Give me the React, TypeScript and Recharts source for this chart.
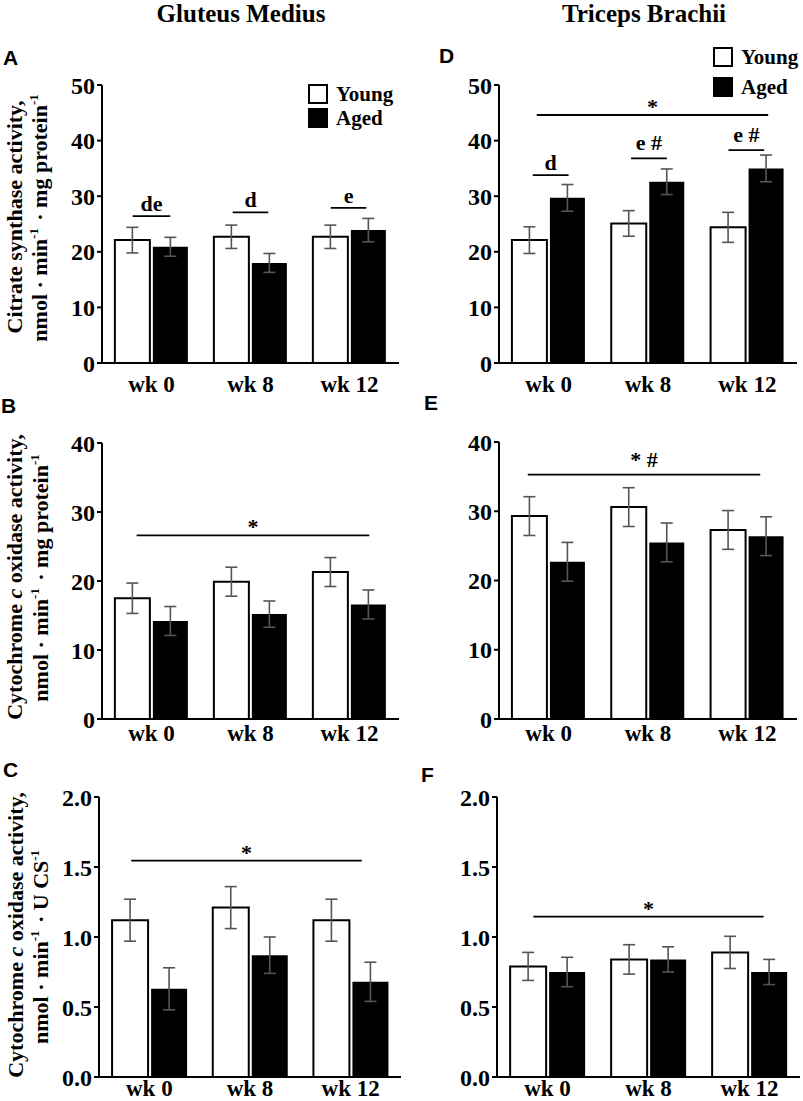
import React from 'react';
import { BarChart, Bar, XAxis, YAxis, ErrorBar, ReferenceLine, Legend } from 'recharts';

const serif = "'Liberation Serif', 'Times New Roman', serif";
const sans = "'Liberation Sans', Arial, sans-serif";

// x categories shared by every panel
const weeks = ['wk 0', 'wk 8', 'wk 12'];
const groups = ['Young', 'Aged'];

// A - citrate synthase, gluteus medius
const csGluteusYoung = [22.1, 22.7, 22.7];
const csGluteusYoungErr = [2.3, 2.1, 2.1];
const csGluteusAged = [20.9, 18.0, 23.9];
const csGluteusAgedErr = [1.7, 1.7, 2.1];

// D - citrate synthase, triceps brachii
const csTricepsYoung = [22.1, 25.1, 24.4];
const csTricepsYoungErr = [2.4, 2.3, 2.7];
const csTricepsAged = [29.7, 32.6, 35.0];
const csTricepsAgedErr = [2.4, 2.3, 2.4];

// B - cytochrome c oxidase per mg protein, gluteus medius
const coxGluteusYoung = [17.5, 19.9, 21.3];
const coxGluteusYoungErr = [2.2, 2.1, 2.1];
const coxGluteusAged = [14.2, 15.2, 16.6];
const coxGluteusAgedErr = [2.1, 1.9, 2.1];

// E - cytochrome c oxidase per mg protein, triceps brachii
const coxTricepsYoung = [29.3, 30.6, 27.3];
const coxTricepsYoungErr = [2.8, 2.8, 2.8];
const coxTricepsAged = [22.7, 25.5, 26.4];
const coxTricepsAgedErr = [2.8, 2.8, 2.8];

// C - cytochrome c oxidase per U CS, gluteus medius
const ratioGluteusYoung = [1.12, 1.21, 1.12];
const ratioGluteusYoungErr = [0.15, 0.15, 0.15];
const ratioGluteusAged = [0.63, 0.87, 0.68];
const ratioGluteusAgedErr = [0.15, 0.13, 0.14];

// F - cytochrome c oxidase per U CS, triceps brachii
const ratioTricepsYoung = [0.79, 0.84, 0.89];
const ratioTricepsYoungErr = [0.1, 0.105, 0.115];
const ratioTricepsAged = [0.75, 0.84, 0.75];
const ratioTricepsAgedErr = [0.105, 0.09, 0.09];

// y ticks
const ticks50 = [0, 10, 20, 30, 40, 50];
const ticks40 = [0, 10, 20, 30, 40];
const ticks2 = [0, 0.5, 1, 1.5, 2];

// significance bars: from/to in category units (0..3), y in data units
const notesA = [
  { text: 'de', from: 0.31, to: 0.69, y: 26.4 },
  { text: 'd', from: 1.32, to: 1.68, y: 27.1 },
  { text: 'e', from: 2.31, to: 2.67, y: 27.9 },
];
const notesD = [
  { text: '*', from: 0.38, to: 2.71, y: 44.6 },
  { text: 'd', from: 0.34, to: 0.7, y: 33.8 },
  { text: 'e #', from: 1.33, to: 1.69, y: 36.8 },
  { text: 'e #', from: 2.31, to: 2.67, y: 38.3 },
];
const notesB = [{ text: '*', from: 0.35, to: 2.7, y: 26.6 }];
const notesE = [{ text: '*  #', from: 0.29, to: 2.63, y: 35.3 }];
const notesC = [{ text: '*', from: 0.32, to: 2.61, y: 1.546 }];
const notesF = [{ text: '*', from: 0.36, to: 2.64, y: 1.145 }];

const toRows = (young, youngErr, aged, agedErr) =>
  weeks.map((wk, i) => ({ wk, young: young[i], youngErr: youngErr[i], aged: aged[i], agedErr: agedErr[i] }));

const panels = [
  {
    id: 'A', rows: toRows(csGluteusYoung, csGluteusYoungErr, csGluteusAged, csGluteusAgedErr),
    plotLeft: 102, plotRight: 399, yTop: 85, yBottom: 363, max: 50, ticks: ticks50,
    xTickMargin: 13, xHeight: 40, notes: notesA, legend: { x: 308, y: 82, gap: 24 },
  },
  {
    id: 'D', rows: toRows(csTricepsYoung, csTricepsYoungErr, csTricepsAged, csTricepsAgedErr),
    plotLeft: 499, plotRight: 797, yTop: 85, yBottom: 363, max: 50, ticks: ticks50,
    xTickMargin: 13, xHeight: 40, notes: notesD, legend: { x: 713, y: 42, gap: 30 },
  },
  {
    id: 'B', rows: toRows(coxGluteusYoung, coxGluteusYoungErr, coxGluteusAged, coxGluteusAgedErr),
    plotLeft: 102, plotRight: 399, yTop: 443, yBottom: 719, max: 40, ticks: ticks40,
    xTickMargin: 6, xHeight: 40, notes: notesB,
  },
  {
    id: 'E', rows: toRows(coxTricepsYoung, coxTricepsYoungErr, coxTricepsAged, coxTricepsAgedErr),
    plotLeft: 499, plotRight: 797, yTop: 442, yBottom: 719, max: 40, ticks: ticks40,
    xTickMargin: 6, xHeight: 40, notes: notesE,
  },
  {
    id: 'C', rows: toRows(ratioGluteusYoung, ratioGluteusYoungErr, ratioGluteusAged, ratioGluteusAgedErr),
    plotLeft: 99, plotRight: 401, yTop: 797, yBottom: 1077, max: 2, ticks: ticks2, decimals: 1,
    xTickMargin: 3, xHeight: 24, notes: notesC,
  },
  {
    id: 'F', rows: toRows(ratioTricepsYoung, ratioTricepsYoungErr, ratioTricepsAged, ratioTricepsAgedErr),
    plotLeft: 497, plotRight: 800, yTop: 797, yBottom: 1077, max: 2, ticks: ticks2, decimals: 1,
    xTickMargin: 3, xHeight: 24, notes: notesF,
  },
];

const Y_W = 70;
const M_TOP = 20;

const noteOffset = (text) => (text.includes('#') ? 8 : text === '*' ? 1 : 5);
const weekIndex = (row) => weeks.indexOf(row.wk);

function Panel({ cfg }) {
  const left = cfg.plotLeft - Y_W;
  const top = cfg.yTop - M_TOP;
  const width = cfg.plotRight - cfg.plotLeft + Y_W + 2;
  const height = cfg.yBottom - cfg.yTop + M_TOP + cfg.xHeight;
  const axisLine = { stroke: '#000', strokeWidth: 2 };
  const lg = cfg.legend;

  // keep Young above Aged, as in the figure
  const renderLegend = ({ payload }) => {
    const items = [...(payload || [])].sort((a, b) => groups.indexOf(a.value) - groups.indexOf(b.value));
    return (
      <div>
        {items.map((p) => (
          <div
            key={p.value}
            style={{ display: 'flex', alignItems: 'center', height: lg.gap, fontFamily: serif, fontWeight: 700, fontSize: 21, color: '#000', whiteSpace: 'nowrap' }}
          >
            <span style={{ display: 'inline-block', width: 16, height: 16, border: '2px solid #000', background: p.color, marginRight: 8 }} />
            <span style={{ lineHeight: '20px' }}>{p.value}</span>
          </div>
        ))}
      </div>
    );
  };

  return (
    <div style={{ position: 'absolute', left, top }}>
      <BarChart
        width={width}
        height={height}
        data={cfg.rows}
        margin={{ top: M_TOP, right: 2, bottom: 0, left: 0 }}
        barCategoryGap="13%"
        barGap={3}
      >
        <XAxis
          dataKey="wk"
          interval={0}
          height={cfg.xHeight}
          tickLine={false}
          tickSize={0}
          tickMargin={cfg.xTickMargin}
          axisLine={axisLine}
          tick={{ fill: '#000', fontSize: 23, fontWeight: 700, fontFamily: serif }}
        />
        {/* linear helper axis spanning the three categories, used to place the significance bars */}
        <XAxis xAxisId="ann" dataKey={weekIndex} type="number" domain={[0, 3]} allowDataOverflow hide />
        <YAxis
          width={Y_W}
          domain={[0, cfg.max]}
          ticks={cfg.ticks}
          interval={0}
          tickSize={5}
          tickMargin={2}
          axisLine={axisLine}
          tickLine={{ stroke: '#000', strokeWidth: 2 }}
          tick={{ fill: '#000', fontSize: 24, fontWeight: 700, fontFamily: serif }}
          tickFormatter={(v) => (cfg.decimals ? Number(v).toFixed(cfg.decimals) : String(v))}
        />
        <Bar dataKey="young" name="Young" fill="#fff" stroke="#000" strokeWidth={2} isAnimationActive={false}>
          <ErrorBar dataKey="youngErr" width={6} stroke="#555" strokeWidth={1.6} isAnimationActive={false} />
        </Bar>
        <Bar dataKey="aged" name="Aged" fill="#000" isAnimationActive={false}>
          <ErrorBar dataKey="agedErr" width={6} stroke="#555" strokeWidth={1.6} isAnimationActive={false} />
        </Bar>
        {cfg.notes.map((n, i) => (
          <ReferenceLine
            key={i}
            xAxisId="ann"
            segment={[{ x: n.from, y: n.y }, { x: n.to, y: n.y }]}
            stroke="#000"
            strokeWidth={1.8}
            ifOverflow="visible"
            label={{
              value: n.text,
              position: 'top',
              offset: noteOffset(n.text),
              fill: '#000',
              fontSize: 22,
              fontWeight: 700,
              fontFamily: serif,
            }}
          />
        ))}
        {lg && (
          <Legend
            layout="vertical"
            align="center"
            verticalAlign="middle"
            content={renderLegend}
            wrapperStyle={{ left: lg.x - left, top: lg.y - top, width: 'auto' }}
          />
        )}
      </BarChart>
    </div>
  );
}

const sup = (t) => (
  <>
    <tspan dy={-9} fontSize={13}>{t}</tspan>
    <tspan dy={9}>{'\u200a'}</tspan>
  </>
);

function YLabel({ x1, x2, cy, cy2, first, second }) {
  const common = { fill: '#000', fontFamily: serif, fontWeight: 700, fontSize: 22, textAnchor: 'middle' as const };
  return (
    <>
      <text transform={`translate(${x1},${cy}) rotate(-90)`} {...common}>{first}</text>
      <text transform={`translate(${x2},${cy2 ?? cy}) rotate(-90)`} {...common}>{second}</text>
    </>
  );
}

const coxFirst = (
  <>
    Cytochrome <tspan fontStyle="italic">c</tspan> oxidase activity,
  </>
);

export default function App() {
  const letter = { fill: '#000', fontFamily: sans, fontWeight: 700, fontSize: 21 };
  return (
    <div style={{ position: 'absolute', left: 0, top: 0, width: 803, height: 1101, overflow: 'hidden', background: '#fff' }}>
      {panels.map((p) => (
        <Panel key={p.id} cfg={p} />
      ))}
      <svg width={803} height={1101} style={{ position: 'absolute', left: 0, top: 0, pointerEvents: 'none' }}>
        <text x={241} y={22} textAnchor="middle" fill="#000" fontFamily={serif} fontWeight={700} fontSize={25}>
          Gluteus Medius
        </text>
        <text x={644} y={22} textAnchor="middle" fill="#000" fontFamily={serif} fontWeight={700} fontSize={25}>
          Triceps Brachii
        </text>

        <text x={3} y={65} {...letter}>A</text>
        <text x={1} y={413} {...letter}>B</text>
        <text x={3} y={777} {...letter}>C</text>
        <text x={439} y={63} {...letter}>D</text>
        <text x={424} y={410} {...letter}>E</text>
        <text x={421} y={782} {...letter}>F</text>

        <YLabel
          x1={22}
          x2={47}
          cy={217}
          first="Citrate synthase activity,"
          second={<>nmol · min{sup('-1')} · mg protein{sup('-1')}</>}
        />
        <YLabel
          x1={22}
          x2={48}
          cy={577}
          first={coxFirst}
          second={<>nmol · min{sup('-1')} · mg protein{sup('-1')}</>}
        />
        <YLabel
          x1={23}
          x2={48}
          cy={935}
          cy2={946}
          first={coxFirst}
          second={<>nmol · min{sup('-1')} · U CS{sup('-1')}</>}
        />
      </svg>
    </div>
  );
}
